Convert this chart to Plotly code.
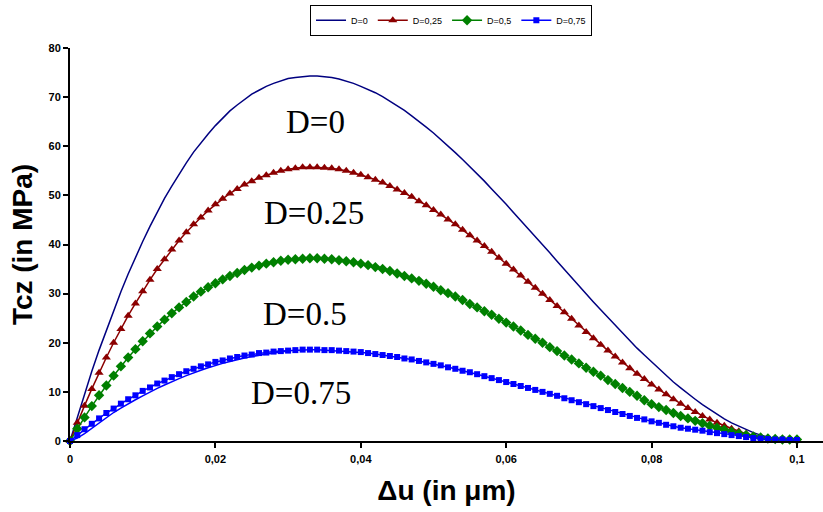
import plotly.graph_objects as go

# Displacement jump (in µm), 0 .. 0.1 step 0.001
du = [
    0.000, 0.001, 0.002, 0.003, 0.004, 0.005, 0.006, 0.007, 0.008, 0.009,
    0.010, 0.011, 0.012, 0.013, 0.014, 0.015, 0.016, 0.017, 0.018, 0.019,
    0.020, 0.021, 0.022, 0.023, 0.024, 0.025, 0.026, 0.027, 0.028, 0.029,
    0.030, 0.031, 0.032, 0.033, 0.034, 0.035, 0.036, 0.037, 0.038, 0.039,
    0.040, 0.041, 0.042, 0.043, 0.044, 0.045, 0.046, 0.047, 0.048, 0.049,
    0.050, 0.051, 0.052, 0.053, 0.054, 0.055, 0.056, 0.057, 0.058, 0.059,
    0.060, 0.061, 0.062, 0.063, 0.064, 0.065, 0.066, 0.067, 0.068, 0.069,
    0.070, 0.071, 0.072, 0.073, 0.074, 0.075, 0.076, 0.077, 0.078, 0.079,
    0.080, 0.081, 0.082, 0.083, 0.084, 0.085, 0.086, 0.087, 0.088, 0.089,
    0.090, 0.091, 0.092, 0.093, 0.094, 0.095, 0.096, 0.097, 0.098, 0.099,
    0.100,
]

t_d0 = [
    0.0, 4.9, 9.6, 14.2, 18.5, 22.6, 26.6, 30.4, 34.0, 37.4, 40.6,
    43.7, 46.6, 49.4, 51.9, 54.4, 56.6, 58.8, 60.7, 62.5, 64.2,
    65.8, 67.2, 68.4, 69.5, 70.6, 71.4, 72.2, 72.8, 73.3, 73.8,
    74.0, 74.2, 74.3, 74.3, 74.2, 74.0, 73.7, 73.3, 72.8, 72.2,
    71.6, 70.9, 70.1, 69.2, 68.3, 67.3, 66.2, 65.1, 63.9, 62.7,
    61.4, 60.1, 58.7, 57.3, 55.9, 54.4, 52.9, 51.3, 49.8, 48.2,
    46.5, 44.9, 43.3, 41.6, 39.9, 38.3, 36.6, 34.9, 33.3, 31.6,
    30.0, 28.3, 26.7, 25.1, 23.5, 22.0, 20.4, 18.9, 17.5, 16.1,
    14.7, 13.3, 12.0, 10.8, 9.6, 8.5, 7.4, 6.4, 5.4, 4.5,
    3.7, 3.0, 2.3, 1.7, 1.2, 0.8, 0.4, 0.2, 0.1, 0.0,
]

t_d025 = [
    0.0, 3.7, 7.2, 10.6, 13.9, 17.0, 20.0, 22.8, 25.5, 28.0, 30.5,
    32.8, 35.0, 37.0, 39.0, 40.8, 42.5, 44.1, 45.5, 46.9, 48.2,
    49.3, 50.4, 51.3, 52.2, 52.9, 53.6, 54.1, 54.6, 55.0, 55.3,
    55.5, 55.7, 55.7, 55.7, 55.6, 55.5, 55.3, 55.0, 54.6, 54.2,
    53.7, 53.2, 52.6, 51.9, 51.2, 50.5, 49.7, 48.8, 48.0, 47.0,
    46.1, 45.1, 44.1, 43.0, 41.9, 40.8, 39.7, 38.5, 37.3, 36.1,
    34.9, 33.7, 32.4, 31.2, 30.0, 28.7, 27.5, 26.2, 24.9, 23.5,
    22.2, 20.9, 19.6, 18.4, 17.2, 16.0, 14.8, 13.7, 12.6, 11.5,
    10.5, 9.5, 8.5, 7.6, 6.7, 5.9, 5.1, 4.4, 3.7, 3.1,
    2.5, 2.0, 1.5, 1.1, 0.8, 0.6, 0.4, 0.3, 0.3, 0.2,
]

t_d05 = [
    0.0, 2.5, 4.8, 7.1, 9.3, 11.3, 13.3, 15.2, 17.0, 18.7, 20.3,
    21.9, 23.3, 24.7, 26.0, 27.2, 28.3, 29.4, 30.4, 31.3, 32.1,
    32.9, 33.6, 34.2, 34.8, 35.3, 35.7, 36.1, 36.4, 36.7, 36.9,
    37.0, 37.1, 37.2, 37.2, 37.1, 37.0, 36.8, 36.6, 36.4, 36.1,
    35.8, 35.4, 35.0, 34.6, 34.1, 33.6, 33.1, 32.6, 32.0, 31.4,
    30.7, 30.1, 29.4, 28.7, 27.9, 27.2, 26.4, 25.7, 24.9, 24.1,
    23.3, 22.5, 21.6, 20.8, 20.0, 19.1, 18.3, 17.4, 16.6, 15.8,
    14.9, 14.1, 13.3, 12.4, 11.6, 10.8, 10.0, 9.2, 8.3, 7.5,
    6.9, 6.3, 5.7, 5.1, 4.6, 4.1, 3.6, 3.1, 2.7, 2.3,
    1.9, 1.5, 1.2, 0.9, 0.7, 0.5, 0.4, 0.3, 0.3, 0.3,
]

t_d075 = [
    0.0, 1.2, 2.4, 3.5, 4.6, 5.7, 6.6, 7.6, 8.5, 9.3, 10.2,
    10.9, 11.7, 12.3, 13.0, 13.6, 14.2, 14.7, 15.2, 15.6, 16.1,
    16.4, 16.8, 17.1, 17.4, 17.6, 17.9, 18.0, 18.2, 18.3, 18.4,
    18.5, 18.6, 18.6, 18.6, 18.5, 18.5, 18.4, 18.3, 18.2, 18.1,
    17.9, 17.7, 17.5, 17.3, 17.1, 16.8, 16.6, 16.3, 16.0, 15.7,
    15.4, 15.0, 14.7, 14.3, 14.0, 13.6, 13.2, 12.8, 12.4, 12.0,
    11.6, 11.2, 10.8, 10.4, 10.0, 9.6, 9.2, 8.7, 8.3, 7.9,
    7.5, 7.1, 6.7, 6.3, 5.9, 5.5, 5.1, 4.7, 4.4, 4.0,
    3.7, 3.3, 3.0, 2.7, 2.5, 2.3, 2.1, 1.8, 1.6, 1.4,
    1.2, 1.0, 0.8, 0.6, 0.5, 0.4, 0.3, 0.3, 0.2, 0.2,
]

# lower connecting line of the D=0.75 series near the origin
du_d075_line = du[:31]
t_d075_line = [
    0.0, 0.6, 1.5, 2.6, 3.7, 4.8, 5.8, 6.7, 7.6, 8.4, 9.2,
    10.0, 10.7, 11.4, 12.1, 12.7, 13.3, 13.9, 14.4, 14.9, 15.4,
    15.8, 16.2, 16.6, 16.9, 17.2, 17.5, 17.7, 17.9, 18.1, 18.3,
]

series_names = ["D=0", "D=0,25", "D=0,5", "D=0,75"]
curve_labels = ["D=0", "D=0.25", "D=0.5", "D=0.75"]
label_x = [0.0338, 0.0336, 0.0323, 0.0318]
label_y = [64.9, 46.5, 25.9, 9.8]

NAVY = "#000080"
RED = "#8B0000"
GREEN = "#008000"
BLUE = "#0000FF"

fig = go.Figure()
fig.add_trace(go.Scatter(x=du, y=t_d0, name=series_names[0], mode="lines",
                         line=dict(color=NAVY, width=1.5), cliponaxis=False))
fig.add_trace(go.Scatter(x=du, y=t_d025, name=series_names[1], mode="lines+markers",
                         line=dict(color=RED, width=1.5),
                         marker=dict(symbol="triangle-up", size=8, color=RED),
                         cliponaxis=False))
fig.add_trace(go.Scatter(x=du, y=t_d05, name=series_names[2], mode="lines+markers",
                         line=dict(color=GREEN, width=1.5),
                         marker=dict(symbol="diamond", size=8, color=GREEN),
                         cliponaxis=False))
fig.add_trace(go.Scatter(x=du_d075_line, y=t_d075_line, mode="lines", showlegend=False,
                         line=dict(color=BLUE, width=1.5), hoverinfo="skip"))
fig.add_trace(go.Scatter(x=du, y=t_d075, name=series_names[3], mode="lines+markers",
                         line=dict(color=BLUE, width=1.5),
                         marker=dict(symbol="square", size=6, color=BLUE),
                         cliponaxis=False))

for txt, lx, ly in zip(curve_labels, label_x, label_y):
    fig.add_annotation(x=lx, y=ly, xref="x", yref="y", text=txt, showarrow=False,
                       font=dict(family="Liberation Serif, Times New Roman, serif",
                                 size=33, color="black"))

tickfont = dict(family="Liberation Sans, Arial, sans-serif", size=11,
                color="black", weight="bold")
titlefont = dict(family="Liberation Sans, Arial, sans-serif", size=28,
                 color="black", weight="bold")

fig.update_layout(
    width=823, height=512,
    margin=dict(l=70, r=0, t=48, b=71, autoexpand=False),
    paper_bgcolor="white", plot_bgcolor="white",
    separators=",.",
    showlegend=True,
    legend=dict(orientation="h", x=0.506, y=1.11, xanchor="center", yanchor="top",
                bordercolor="black", borderwidth=1, bgcolor="white",
                font=dict(family="Liberation Sans, Arial, sans-serif", size=9,
                          color="black"),
                itemwidth=30, tracegroupgap=0),
    xaxis=dict(range=[0, 0.10358], tickvals=[0, 0.02, 0.04, 0.06, 0.08, 0.1],
               ticks="outside", ticklen=5, tickwidth=1.5, tickcolor="black",
               showline=True, linecolor="black", linewidth=2, automargin=False,
               showgrid=False, zeroline=False, tickfont=tickfont,
               ticklabelstandoff=2,
               title=dict(text="Δu (in μm)", font=titlefont, standoff=16)),
    yaxis=dict(range=[0, 80], dtick=10, ticks="outside", ticklen=5, tickwidth=1.5,
               tickcolor="black", showline=True, linecolor="black", linewidth=2,
               automargin=False,
               showgrid=False, zeroline=False, tickfont=tickfont,
               title=dict(text="Tcz (in MPa)", font=titlefont, standoff=8)),
)

fig.write_html("out.html",
               config={"displayModeBar": False},
               post_script="document.body.style.margin='0px';document.body.style.padding='0px';")
